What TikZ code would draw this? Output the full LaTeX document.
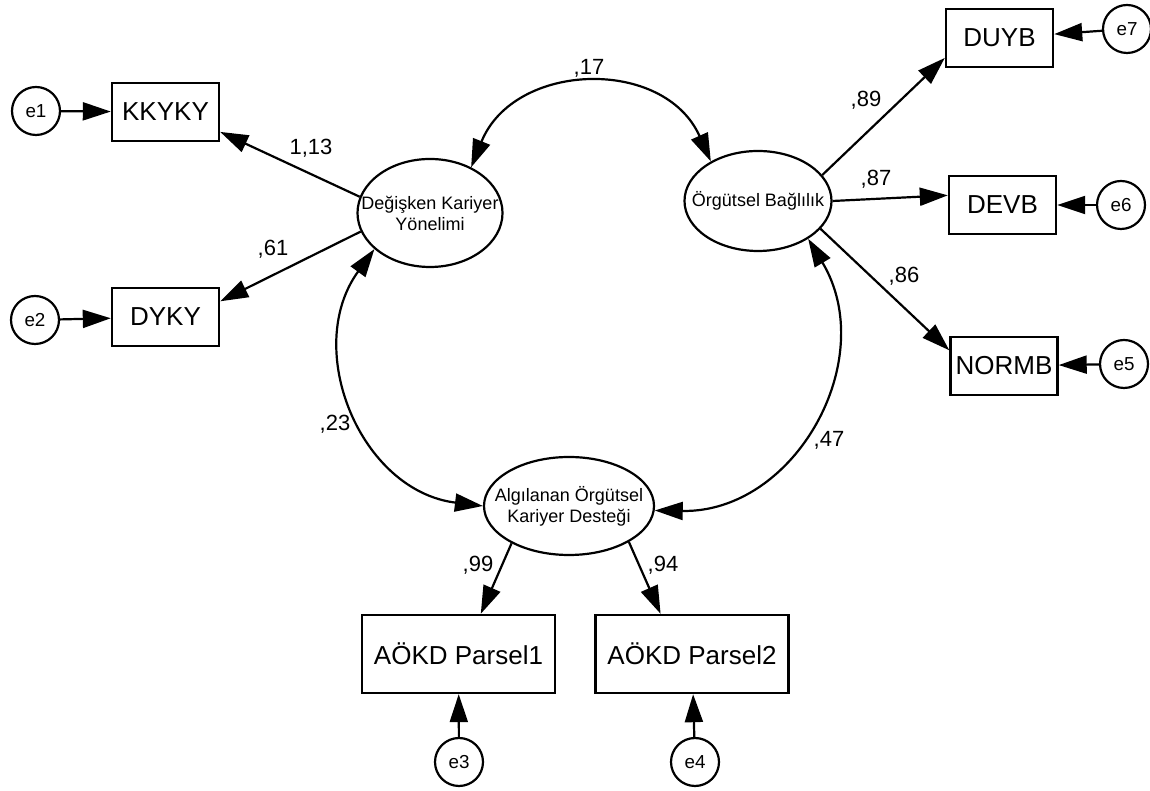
\documentclass[tikz,border=0pt]{standalone}
\usepackage{fontspec}
\setmainfont{Liberation Sans}
\usetikzlibrary{arrows.meta,shapes.geometric}

\begin{document}
\begin{tikzpicture}[x=0.5pt,y=0.5pt,
  box/.style={draw,line width=1.2pt,inner sep=0pt,minimum width=53.5pt,minimum height=29pt,font=\fontsize{13}{15}\selectfont},
  bigbox/.style={box,minimum width=96.5pt,minimum height=39pt},
  lat/.style={draw,ellipse,line width=1.1pt,inner sep=0pt},
  lbl/.style={align=center,font=\fontsize{9}{10.5}\selectfont},
  err/.style={draw,circle,line width=1.1pt,minimum size=24pt,inner sep=0pt,font=\fontsize{9.4}{11}\selectfont},
  reg/.style={line width=1.1pt,-{Triangle[length=14pt,width=9pt]}},
  cor/.style={line width=1.1pt,{Triangle[length=14pt,width=9pt]}-{Triangle[length=14pt,width=9pt]}},
  num/.style={anchor=base,font=\fontsize{11}{13}\selectfont}]
 \useasboundingbox (0,0) rectangle (1150,791);
 \foreach \n/\x/\y/\t in {kkyky/165.5/679/KKYKY,dyky/165.5/474/DYKY,duyb/999.5/753/DUYB,devb/1002.5/586/DEVB,normb/1004/425/NORMB}
   \node[box] (\n) at (\x,\y) {\t};
 \node[bigbox] (p1) at (458.5,137) {AÖKD Parsel1};
 \node[bigbox] (p2) at (692,137) {AÖKD Parsel2};
 \node[lat,minimum width=72.5pt,minimum height=54pt,label={[lbl]center:Değişken Kariyer\\Yönelimi}] (dky) at (430,578) {};
 \node[lat,minimum width=73.5pt,minimum height=50pt,label={[lbl]center:Örgütsel Bağlılık}] (ob) at (758,590) {};
 \node[lat,minimum width=85pt,minimum height=49pt,label={[lbl]center:Algılanan Örgütsel\\Kariyer Desteği}] (aokd) at (569,285) {};
 \foreach \n/\x/\y/\t in {e1/36/680/kkyky,e2/35/471/dyky,e3/459/29/p1,e4/695/29/p2,e5/1124/427/normb,e6/1121/586/devb,e7/1127/762/duyb} {
   \node[err] (\n) at (\x,\y) {\n};
   \draw[reg] (\n) -- (\t);
 }
 \draw[reg] (dky.167) -- (kkyky.340);
 \draw[reg] (dky.195) -- (dyky.16);
 \draw[reg] (ob.22) -- (duyb.200);
 \draw[reg] (ob.east) -- (devb.170);
 \draw[reg] (ob.336) -- (normb.164);
 \draw[reg] (aokd.213) -- (p1.61);
 \draw[reg] (aokd.329) -- (p2.128);
 \draw[cor] (dky.48) to[out=68,in=114,looseness=1.22] (ob.140);
 \draw[cor] (dky.213) to[out=234,in=173,looseness=1.13] (aokd.west);
 \draw[cor] (ob.323) to[out=301,in=359,looseness=1.15] (aokd.357);
 \foreach \x/\y/\t [count=\i] in {311/636/{1,13},273/535/{,61},866/684/{,89},876/605/{,87},904/508/{,86},478/219/{,99},663/219/{,94},589/716/{,17},335/360/{,23},829/344/{,47}}
   \node[num] (w\i) at (\x,\y) {\t};
\end{tikzpicture}
\end{document}
